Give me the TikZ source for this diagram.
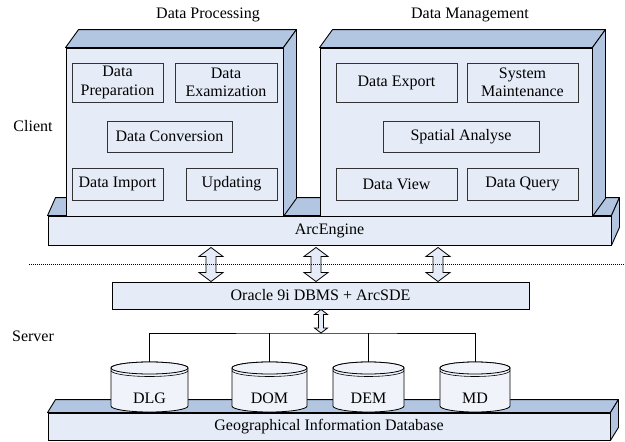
\documentclass[tikz,border=0pt]{standalone}
\usepackage{fontspec}
\setmainfont{Liberation Serif}
\usepackage{pgf,tikz}
\usetikzlibrary{calc, math}

\definecolor{frontblue}{RGB}{230,236,247}
\definecolor{sideblue}{RGB}{178,198,226}
\definecolor{cylwhite}{RGB}{240,243,249}

\begin{document}
\begin{tikzpicture}[x=1pt, y=-1pt, font=\fontsize{16}{18.5}\selectfont,
  face/.style={draw=black, line width=0.9pt, fill=frontblue, inner sep=0pt},
  shadeface/.style={draw=black, line width=0.9pt, fill=sideblue, line join=round},
  module/.style={draw=black!80, line width=0.8pt, fill=frontblue, align=center, inner sep=0pt},
  cyl/.style={draw=black, line width=0.8pt, fill=cylwhite},
  fatarr/.style={draw=black, line width=0.8pt, fill=frontblue}]

\useasboundingbox (0,0) rectangle (625,442);

\tikzmath{
			\dxp = 13; \dyp = 18;
			\dxs = 8; \dys = 18; \dyg = 13;
         }

% client side
\node[face, minimum width=563pt, minimum height=29pt] (arcengine) at (329.5,230.5) {ArcEngine};
\draw[shadeface] (arcengine.north west) -- ++(\dxs,-\dys) -- ($(arcengine.north east)+(\dxs,-\dys)$) -- (arcengine.north east) -- cycle;
\draw[shadeface] (arcengine.north east) -- ++(\dxs,-\dys) -- ($(arcengine.south east)+(\dxs,-\dys)$) -- (arcengine.south east) -- cycle;

\node[face, minimum width=217pt, minimum height=168pt] (procpanel) at (174.5,132) {};
\node[face, minimum width=272pt, minimum height=168pt] (mgmtpanel) at (456,132) {};
\foreach \p in {procpanel, mgmtpanel}{
  \draw[shadeface] (\p.north west) -- ++(\dxp,-\dyp) -- ($(\p.north east)+(\dxp,-\dyp)$) -- (\p.north east) -- cycle;
  \draw[shadeface] (\p.north east) -- ++(\dxp,-\dyp) -- ($(\p.south east)+(\dxp,-\dyp)$) -- (\p.south east) -- cycle;
}

\node (proctitle) at (208,15) {Data Processing};
\node (mgmttitle) at (470,15) {Data Management};
\node (client) at (33,126) {Client};
\node (server) at (33,336) {Server};

\node[module, minimum width=91pt, minimum height=39pt] (prep) at (117.5,82.5) {Data\\Preparation};
\node[module, minimum width=102pt, minimum height=39pt] (exam) at (226,82.5) {Data\\Examization};
\node[module, minimum width=125pt, minimum height=31pt] (conv) at (169.5,136.5) {Data Conversion};
\node[module, minimum width=91pt, minimum height=32pt] (import) at (117.5,184) {Data Import};
\node[module, minimum width=91pt, minimum height=32pt] (upd) at (231.5,184) {Updating};

\node[module, minimum width=121pt, minimum height=39pt] (export) at (396.5,82.5) {Data Export};
\node[module, minimum width=111pt, minimum height=39pt] (sysmaint) at (522.5,82.5) {System\\Maintenance};
\node[module, minimum width=156pt, minimum height=31pt] (spatial) at (461,136.5) {Spatial Analyse};
\node[module, minimum width=121pt, minimum height=32pt] (view) at (396.5,184) {Data View};
\node[module, minimum width=111pt, minimum height=32pt] (query) at (522.5,184) {Data Query};

% server side
\node[face, minimum width=417pt, minimum height=27pt] (oracle) at (320.5,295.5) {Oracle 9i DBMS + ArcSDE};

\node[face, minimum width=562pt, minimum height=27pt] (gidb) at (329,426.5) {Geographical Information Database};
\draw[shadeface] (gidb.north west) -- ++(\dxs,-\dyg) -- ($(gidb.north east)+(\dxs,-\dyg)$) -- (gidb.north east) -- cycle;
\draw[shadeface] (gidb.north east) -- ++(\dxs,-\dyg) -- ($(gidb.south east)+(\dxs,-\dyg)$) -- (gidb.south east) -- cycle;

\foreach \nm/\cx/\w/\txt in {dlg/149.5/77/DLG, dom/269.5/75/DOM, dem/368.5/71/DEM, md/475/70/MD}{
  \tikzmath{\rad = \w/2;}
  \draw[cyl] ({\cx-\rad},368) -- ({\cx-\rad},406) arc[start angle=180, end angle=0, x radius=\rad, y radius=6] -- ({\cx+\rad},368) arc[start angle=0, end angle=-180, x radius=\rad, y radius=6] -- cycle;
  \draw[cyl] (\cx,368) ellipse [x radius=\rad, y radius=6];
  \draw[line width=0.6pt] ({\cx-\rad},370.5) arc[start angle=180, end angle=0, x radius=\rad, y radius=6];
  \node (\nm) at (\cx,398) {\txt};
  \coordinate (\nm-top) at (\cx,362);
}

% connectors
\foreach \ax [count=\i] in {211,316,438}{
  \coordinate (ax\i) at (\ax,0);
  \coordinate (up\i) at ($(arcengine.south -| ax\i)+(0,2)$);
  \coordinate (dn\i) at (oracle.north -| ax\i);
}
\coordinate (bus) at (321,333);
\coordinate (up4) at (oracle.south -| bus);
\coordinate (dn4) at (bus);

\foreach \t/\b/\hw/\sw/\hl in {up1/dn1/12/5/9, up2/dn2/12/5/9, up3/dn3/12/5/9, up4/dn4/6.5/2.5/5}{
  \draw[fatarr] (\t) -- ++(\hw,\hl) -- ++(\sw-\hw,0) -- ($(\b)+(\sw,-\hl)$) -- ++(\hw-\sw,0) -- (\b)
    -- ++(-\hw,-\hl) -- ++(\hw-\sw,0) -- ($(\t)+(-\sw,\hl)$) -- ++(\sw-\hw,0) -- cycle;
}

\coordinate (sepleft) at (29,264);
\coordinate (sepright) at (625,264);
\draw[dash pattern=on 1pt off 1pt, line width=0.6pt] (sepleft) -- (sepright);

\draw[line width=0.8pt] (dlg-top) |- (bus) -| (md-top);
\draw[line width=0.8pt] (dom-top) -- (dom-top |- bus);
\draw[line width=0.8pt] (dem-top) -- (dem-top |- bus);

\end{tikzpicture}
\end{document}
